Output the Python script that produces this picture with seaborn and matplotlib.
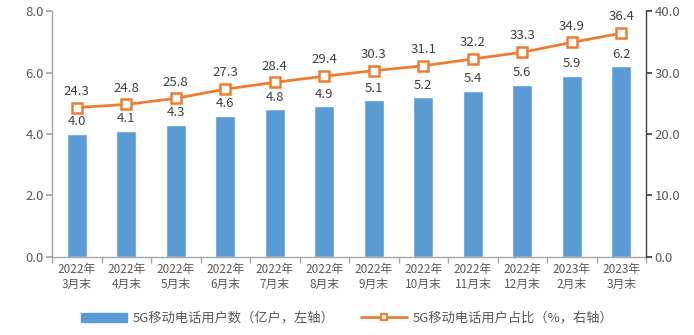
import matplotlib
matplotlib.use("Agg")
import matplotlib.pyplot as plt
import seaborn as sns
import pandas as pd
import numpy as np
from matplotlib.lines import Line2D
from matplotlib.patches import Patch

categories = ["2022年\n3月末", "2022年\n4月末", "2022年\n5月末", "2022年\n6月末", "2022年\n7月末",
              "2022年\n8月末", "2022年\n9月末", "2022年\n10月末", "2022年\n11月末", "2022年\n12月末",
              "2023年\n2月末", "2023年\n3月末"]
users = [4.0, 4.1, 4.3, 4.6, 4.8, 4.9, 5.1, 5.2, 5.4, 5.6, 5.9, 6.2]
share = [24.3, 24.8, 25.8, 27.3, 28.4, 29.4, 30.3, 31.1, 32.2, 33.3, 34.9, 36.4]
left_ticks = [0.0, 2.0, 4.0, 6.0, 8.0]
right_ticks = [0.0, 10.0, 20.0, 30.0, 40.0]
bar_label = "5G移动电话用户数（亿户，左轴）"
line_label = "5G移动电话用户占比（%，右轴）"

sns.set_theme(style="white")
plt.rcParams['font.family'] = ['Noto Sans CJK SC', 'DejaVu Sans']

BAR = "#5B9BD5"
LINE = "#ED7D31"
TXT = "#595959"

df = pd.DataFrame({"cat": categories, "users": users, "share": share})

fig = plt.figure(figsize=(6.94, 3.35), dpi=100)
ax = fig.add_axes([0.075, 0.233, 0.856, 0.734])
sns.barplot(data=df, x="cat", y="users", color=BAR, width=0.4, ax=ax, saturation=1)
ax.set_ylim(0, 8)
ax.set_xlim(-0.5, len(categories) - 0.5)
ax.set_yticks(left_ticks)
ax.set_yticklabels([f"{v:.1f}" for v in left_ticks], color=TXT, fontsize=9.5)
ax.set_xlabel("")
ax.set_ylabel("")
ax.set_xticks(range(len(categories)))
ax.set_xticklabels(categories, color=TXT, fontsize=8.5, linespacing=1.25)
ax.tick_params(axis="x", which="major", length=0, pad=4)
ax.set_xticks(np.arange(-0.5, len(categories), 1), minor=True)
ax.tick_params(axis="x", which="minor", length=4, color="#A6A6A6", direction="out", bottom=True)
ax.tick_params(axis="y", length=4, color="#A6A6A6", direction="out", left=True, pad=2)
for s in ["top", "right"]:
    ax.spines[s].set_visible(False)
for s in ["left", "bottom"]:
    ax.spines[s].set_color("#A6A6A6")
    ax.spines[s].set_linewidth(1)

for i, v in enumerate(users):
    ax.text(i, v + 0.18, f"{v:.1f}", ha="center", va="bottom", color="#404040", fontsize=9.5)

ax2 = ax.twinx()
sns.lineplot(data=df, x="cat", y="share", color=LINE, lw=2, marker="s", markersize=6.5,
             markerfacecolor="white", markeredgecolor=LINE, markeredgewidth=1.8, ax=ax2, sort=False)
ax2.set_ylim(0, 40)
ax2.set_yticks(right_ticks)
ax2.set_yticklabels([f"{v:.1f}" for v in right_ticks], color=TXT, fontsize=9.5)
ax2.set_ylabel("")
ax2.tick_params(axis="y", length=4, color="#404040", direction="out", right=True, pad=2)
for s in ["top", "left", "bottom"]:
    ax2.spines[s].set_visible(False)
ax2.spines["right"].set_color("#404040")
ax2.spines["right"].set_linewidth(1)
for i, v in enumerate(share):
    ax2.text(i, v + 1.6, f"{v:.1f}", ha="center", va="bottom", color="#404040", fontsize=9.5)

handles = [Patch(facecolor=BAR, edgecolor=BAR),
           Line2D([0], [0], color=LINE, lw=2, marker="s", markersize=5,
                  markerfacecolor="white", markeredgecolor=LINE, markeredgewidth=1.5)]
fig.legend(handles, [bar_label, line_label], loc="center", bbox_to_anchor=(0.5, 0.05),
           ncol=2, frameon=False, fontsize=9.5, labelcolor=TXT, handlelength=3.5,
           columnspacing=2.0, handletextpad=0.4)

fig.savefig("out.png", dpi=100)
